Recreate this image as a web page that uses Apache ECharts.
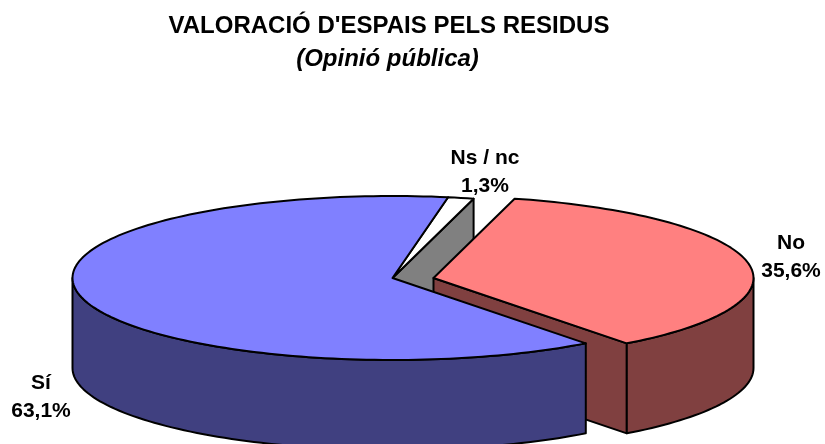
<!DOCTYPE html>
<html><head><meta charset="utf-8">
<style>html,body{margin:0;padding:0;background:#fff}#c{width:825px;height:444px}</style>
<script src="https://cdn.jsdelivr.net/npm/echarts@6/dist/echarts.min.js"></script>
</head><body><div id="c"></div>
<script>
// Data, in clockwise drawing order
const categories = ['Ns / nc', 'No', 'Sí'];
const values = [1.3, 35.6, 63.1];
const valueLabels = ['1,3%', '35,6%', '63,1%'];

// Style / layout
const topColors = ['#FFFFFF', '#FF8080', '#8080FF'];
const sideColors = ['#808080', '#804040', '#404080'];
const explode = [0, 41, 0];
const labelPos = [[485, 172.5], [791, 257], [41, 397]];
const geo = { cx: 392.5, cy: 278, rx: 320, ry: 82, depth: 90, startDeg: 10 };
const total = values.reduce((a, b) => a + b, 0);

function pt(a, dx, dy) {
  const r = a * Math.PI / 180;
  return [geo.cx + dx + geo.rx * Math.sin(r), geo.cy + dy - geo.ry * Math.cos(r)];
}
function arc(a0, a1, dx, dy) {
  const n = Math.max(2, Math.ceil(Math.abs(a1 - a0) / 1.5));
  const out = [];
  for (let i = 0; i <= n; i++) out.push(pt(a0 + (a1 - a0) * i / n, dx, dy));
  return out;
}
const lineStyle = (fill) => ({ fill, stroke: '#000', lineWidth: 2, lineJoin: 'round' });

function renderItem(params, api) {
  const i = params.dataIndex;
  let before = 0;
  for (let k = 0; k < i; k++) before += values[k];
  const a0 = geo.startDeg + before / total * 360;
  const a1 = a0 + api.value(0) / total * 360;
  const dx = explode[i];
  const d = geo.depth;
  const children = [];
  const add = (points, fill) => children.push({
    type: 'polygon', z2: children.length, shape: { points }, style: lineStyle(fill)
  });
  const apex = [geo.cx + dx, geo.cy];
  const end = pt(a1, dx, 0);
  // cut face at the clockwise end, shown only where the next slice has moved apart
  if (dx > 0 || explode[(i + 1) % values.length] > 0) {
    add([apex, end, [end[0], end[1] + d], [apex[0], apex[1] + d]], sideColors[i]);
  }
  // outer wall: only the front half of the rim
  const w0 = Math.max(a0, 90), w1 = Math.min(a1, 270);
  if (w1 > w0) {
    const upper = arc(w0, w1, dx, 0);
    const lower = arc(w1, w0, dx, d);
    add(upper.concat(lower), sideColors[i]);
  }
  add([apex].concat(arc(a0, a1, dx, 0)), topColors[i]);
  children.push({
    type: 'text', z2: 50,
    style: {
      x: labelPos[i][0], y: labelPos[i][1],
      text: categories[i] + '\n' + valueLabels[i],
      align: 'center', verticalAlign: 'middle',
      font: 'bold 21px "Liberation Sans", Arial, sans-serif',
      lineHeight: 28, fill: '#000'
    }
  });
  return { type: 'group', children };
}

const chart = echarts.init(document.getElementById('c'), null, { renderer: 'canvas' });
chart.setOption({
  animation: false,
  backgroundColor: '#fff',
  tooltip: { show: false },
  title: [
    { text: "VALORACIÓ D'ESPAIS PELS RESIDUS", left: 384, top: 9, textAlign: 'center',
      textStyle: { fontFamily: '"Liberation Sans", Arial, sans-serif', fontWeight: 'bold', fontSize: 24, color: '#000' } },
    { text: '(Opinió pública)', left: 382.5, top: 42, textAlign: 'center',
      textStyle: { fontFamily: '"Liberation Sans", Arial, sans-serif', fontWeight: 'bold', fontStyle: 'italic', fontSize: 24, color: '#000' } }
  ],
  series: [{
    type: 'custom',
    coordinateSystem: 'none',
    renderItem,
    silent: true,
    clip: false,
    encode: { value: 0 },
    data: values.map((v, i) => ({ name: categories[i], value: [v] }))
  }]
});
</script></body></html>
